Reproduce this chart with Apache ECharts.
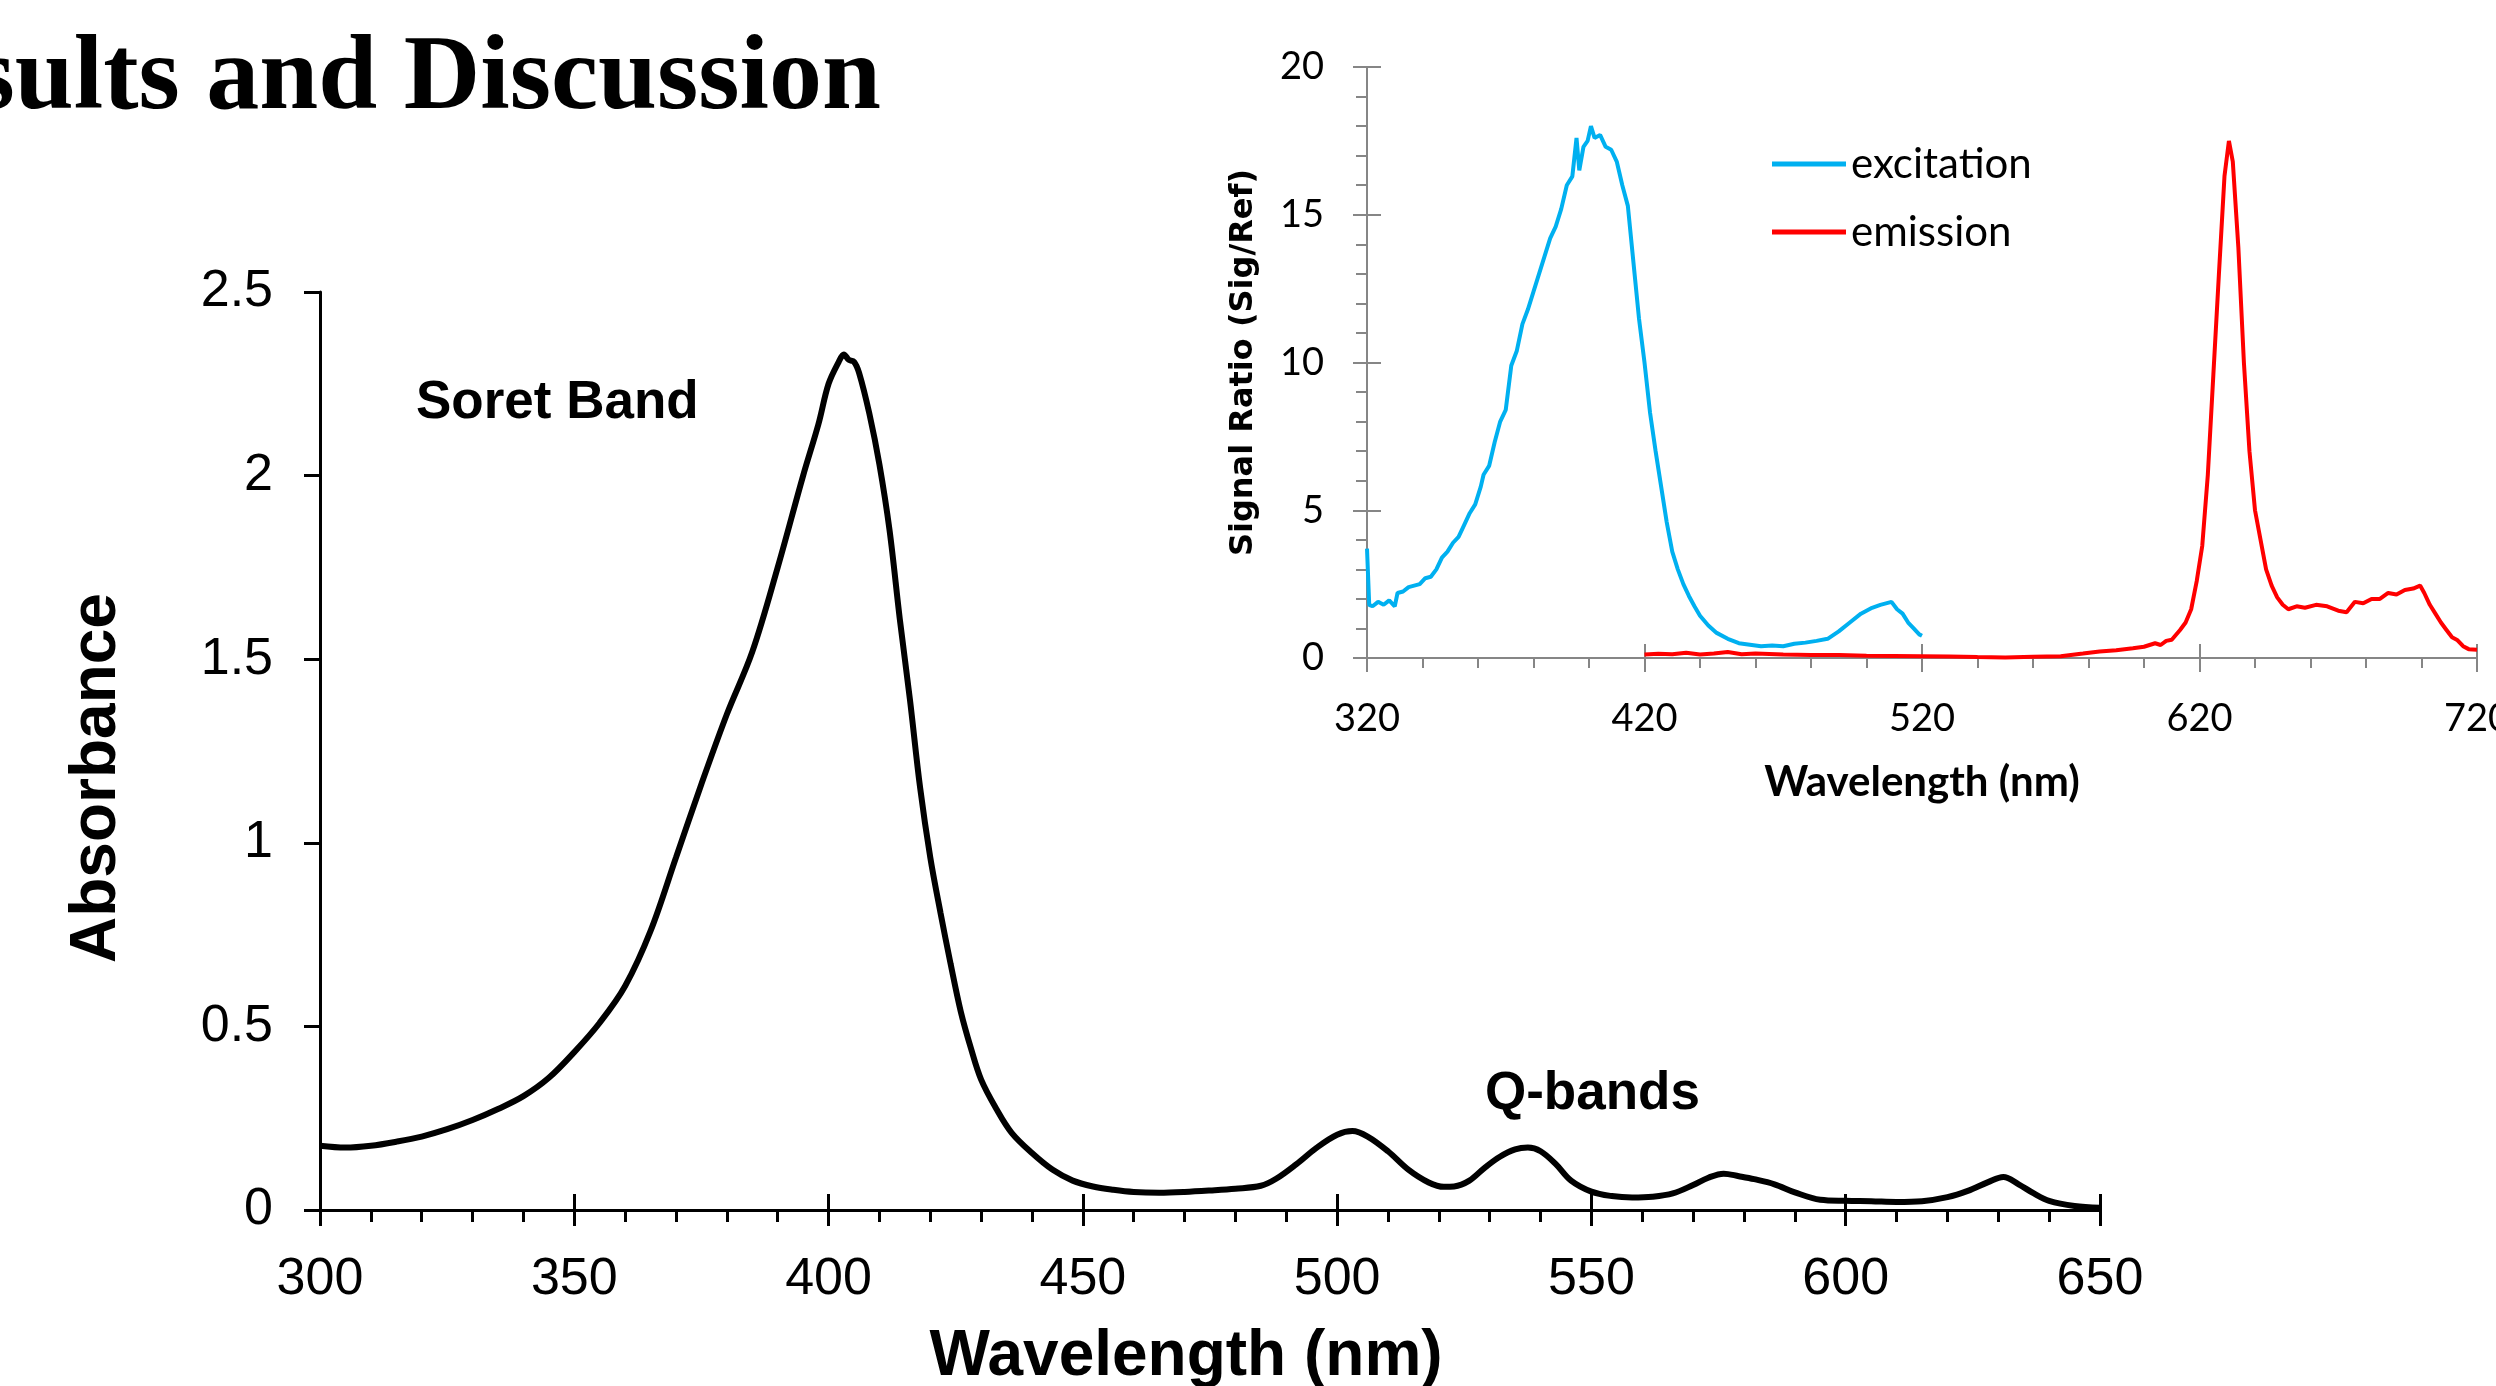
<!DOCTYPE html>
<html>
<head>
<meta charset="UTF-8">
<title>Absorbance, excitation and emission spectra</title>
<script src="https://cdn.jsdelivr.net/npm/echarts@6/dist/echarts.min.js"></script>
<style>
    body, html {
        margin: 0;
        padding: 0;
        background: #fff;
    }

    #chart {
        width: 2496px;
        height: 1386px;
    }
</style>
</head>
<body>
<div id="chart"></div>
<script>
    // main plot: UV-vis absorbance
    var absWavelength = [300, 305, 310, 315, 320, 325, 330, 335, 340, 345, 350, 355, 360, 365, 370, 375, 380, 385, 390, 395,
        398, 400, 402, 403, 404, 405, 406, 408, 410, 412, 414, 416, 418, 420, 422, 424, 426, 428, 430, 433, 436, 440, 444, 448,
        452, 456, 460, 465, 470, 475, 480, 485, 488, 492, 496, 500, 503, 506, 510, 514, 518, 521, 523, 526, 529, 532, 535, 537.5,
        540, 543, 546, 550, 554, 558, 562, 566, 570, 573, 576, 579, 582, 586, 590, 595, 600, 605, 610, 615, 620, 624, 628, 631,
        634, 637, 640, 645, 650];
    var absorbance = [0.175, 0.170, 0.175, 0.186, 0.20, 0.22, 0.245, 0.275, 0.31, 0.36, 0.43, 0.51, 0.61, 0.76, 0.96, 1.16, 1.35, 1.52, 1.75, 2.00,
        2.14, 2.25, 2.31, 2.33, 2.315, 2.31, 2.28, 2.17, 2.03, 1.85, 1.61, 1.39, 1.15, 0.96, 0.81, 0.67, 0.54, 0.44, 0.355, 0.275, 0.21, 0.155, 0.11, 0.08,
        0.064, 0.055, 0.049, 0.047, 0.049, 0.053, 0.058, 0.066, 0.085, 0.125, 0.17, 0.205, 0.215, 0.2, 0.16, 0.11, 0.075, 0.063, 0.064, 0.08, 0.115, 0.145, 0.165, 0.17,
        0.16, 0.125, 0.08, 0.05, 0.038, 0.034, 0.036, 0.045, 0.068, 0.088, 0.099, 0.092, 0.084, 0.07, 0.048, 0.028, 0.025, 0.024, 0.022, 0.024, 0.035, 0.052, 0.076, 0.09,
        0.07, 0.045, 0.025, 0.011, 0.006];

    // inset: excitation / emission signal ratio
    var excWavelength = [320, 320.8, 322, 324, 326, 328, 330, 331, 333, 335, 337, 339, 341, 343, 345, 347, 349, 351, 353, 355,
        357, 359, 361, 362, 364, 366, 368, 370, 372, 374, 376, 378, 380, 382, 384, 386, 388, 390, 392, 394, 395.5, 396.5, 398,
        399.5, 400.7, 402, 404, 406, 408, 410, 412, 414, 416, 418, 420, 422, 424, 426, 428, 430, 432, 434, 436, 438, 440, 443,
        446, 450, 454, 458, 462, 466, 470, 474, 478, 482, 486, 490, 494, 498, 502, 505, 507, 509, 511, 513, 515, 517, 519, 520];
    var excSignal = [3.7, 1.8, 1.75, 1.9, 1.8, 1.95, 1.75, 2.2, 2.25, 2.4, 2.45, 2.5, 2.7, 2.75, 3.0, 3.4, 3.6, 3.9, 4.1, 4.5,
        4.9, 5.2, 5.8, 6.2, 6.5, 7.3, 8.0, 8.4, 9.9, 10.4, 11.3, 11.8, 12.4, 13.0, 13.6, 14.2, 14.6, 15.2, 16.0, 16.3, 17.6, 16.5, 17.3,
        17.5, 18.0, 17.6, 17.7, 17.3, 17.2, 16.8, 16.0, 15.3, 13.4, 11.5, 10.0, 8.3, 7.0, 5.8, 4.6, 3.6, 3.0, 2.5, 2.1, 1.75, 1.43, 1.1,
        0.85, 0.65, 0.5, 0.45, 0.4, 0.42, 0.4, 0.48, 0.52, 0.58, 0.65, 0.9, 1.2, 1.5, 1.7, 1.8, 1.85, 1.9, 1.65, 1.5, 1.2, 1.0, 0.8, 0.75];

    var emWavelength = [420, 425, 430, 435, 440, 445, 450, 455, 460, 470, 480, 490, 500, 510, 520, 530, 540, 550, 560, 570,
        578, 584, 590, 596, 600, 604, 606, 608, 610, 613, 615, 617, 619, 621, 623, 625, 627, 629, 630.6, 632, 634, 636, 638, 640, 642, 644,
        646, 648, 650, 652, 655, 658, 662, 666, 670, 673, 676, 679, 682, 685, 688, 691, 694, 697, 699.5, 701, 703, 705, 707, 709,
        711, 713, 715, 717, 720];
    var emSignal = [0.12, 0.14, 0.13, 0.18, 0.12, 0.15, 0.2, 0.13, 0.15, 0.12, 0.1, 0.1, 0.08, 0.07, 0.06, 0.05, 0.03, 0.02, 0.04, 0.06,
        0.15, 0.22, 0.26, 0.33, 0.38, 0.5, 0.44, 0.58, 0.62, 0.95, 1.2, 1.65, 2.6, 3.8, 6.2, 9.6, 13.0, 16.3, 17.5, 16.8, 13.9, 10.0, 7.0, 5.0, 4.0, 3.0,
        2.45, 2.05, 1.8, 1.65, 1.75, 1.7, 1.8, 1.75, 1.6, 1.55, 1.9, 1.85, 2.0, 2.0, 2.2, 2.15, 2.3, 2.35, 2.45, 2.2, 1.8, 1.5, 1.2, 0.95,
        0.7, 0.6, 0.4, 0.3, 0.28];

    var seriesNames = ['excitation', 'emission'];
    var insetStart = 320; // inset x axis starts here, ticks every 100 nm

    function pairs(xs, ys, shift) {
        return xs.map(function (x, i) {
            return [x - shift, ys[i]];
        });
    }

    var black = '#000';
    var grey = '#868686';
    var mainFont = 'Liberation Sans';
    var insetFont = 'Lato';

    var mainLabel = {color: black, fontFamily: mainFont, fontSize: 52};
    var insetLabel = {color: black, fontFamily: insetFont, fontSize: 38};

    var chart = echarts.init(document.getElementById('chart'), null, {renderer: 'canvas'});

    var option = {
        animation: false,
        backgroundColor: '#fff',
        grid: [
            {left: 320, right: 396, top: 292, bottom: 176, outerBoundsMode: 'none'},
            {left: 1367, right: 19, top: 67, bottom: 728, outerBoundsMode: 'none'}
        ],
        xAxis: [
            {
                type: 'value', gridIndex: 0, position: 'bottom', min: 300, max: 650, interval: 50,
                axisLine: {onZero: false, lineStyle: {color: black, width: 3}},
                axisTick: {length: 16, lineStyle: {color: black, width: 3}},
                minorTick: {show: true, splitNumber: 5, length: 12, lineStyle: {color: black, width: 3}},
                splitLine: {show: false},
                axisLabel: Object.assign({margin: 44}, mainLabel),
                name: 'Wavelength (nm)', nameLocation: 'middle', nameGap: 115,
                nameTextStyle: {color: black, fontFamily: mainFont, fontSize: 64, fontWeight: 'bold', padding: [0, 48, 0, 0]}
            },
            {
                // upper half of the crossing major ticks
                type: 'value', gridIndex: 0, position: 'bottom', min: 300, max: 650, interval: 50,
                axisLine: {show: false, onZero: false},
                axisTick: {inside: true, length: 16, lineStyle: {color: black, width: 3}},
                axisLabel: {show: false},
                splitLine: {show: false}
            },
            {
                type: 'value', gridIndex: 1, position: 'bottom', min: 0, max: 400, interval: 100,
                axisLine: {onZero: false, lineStyle: {color: grey, width: 2}},
                axisTick: {length: 14, lineStyle: {color: grey, width: 2}},
                minorTick: {show: true, splitNumber: 5, length: 10, lineStyle: {color: grey, width: 2}},
                splitLine: {show: false},
                axisLabel: Object.assign({
                    margin: 42, formatter: function (v) {
                        return v + insetStart;
                    }
                }, insetLabel),
                name: 'Wavelength (nm)', nameLocation: 'middle', nameGap: 103,
                nameTextStyle: {color: black, fontFamily: insetFont, fontSize: 42, fontWeight: 'bold'}
            },
            {
                type: 'value', gridIndex: 1, position: 'bottom', min: 0, max: 400, interval: 100,
                axisLine: {show: false, onZero: false},
                axisTick: {inside: true, length: 14, lineStyle: {color: grey, width: 2}},
                axisLabel: {show: false},
                splitLine: {show: false}
            }
        ],
        yAxis: [
            {
                type: 'value', gridIndex: 0, position: 'left', min: 0, max: 2.5, interval: 0.5,
                axisLine: {show: true, onZero: false, lineStyle: {color: black, width: 3}},
                axisTick: {show: true, length: 16, lineStyle: {color: black, width: 3}},
                splitLine: {show: false},
                axisLabel: Object.assign({margin: 47}, mainLabel),
                name: 'Absorbance', nameLocation: 'middle', nameGap: 191,
                nameTextStyle: {color: black, fontFamily: mainFont, fontSize: 64, fontWeight: 'bold', padding: [0, 54, 0, 0]}
            },
            {
                type: 'value', gridIndex: 1, position: 'left', min: 0, max: 20, interval: 5,
                axisLine: {show: true, onZero: false, lineStyle: {color: grey, width: 2}},
                axisTick: {show: true, length: 14, lineStyle: {color: grey, width: 2}},
                minorTick: {show: true, splitNumber: 5, length: 11, lineStyle: {color: grey, width: 2}},
                splitLine: {show: false},
                axisLabel: Object.assign({margin: 43}, insetLabel),
                name: 'Signal Ratio (Sig/Ref)', nameLocation: 'middle', nameGap: 107,
                nameTextStyle: {color: black, fontFamily: 'DejaVu Sans', fontSize: 32, fontWeight: 'bold'}
            },
            {
                type: 'value', gridIndex: 1, position: 'left', min: 0, max: 20, interval: 5,
                axisLine: {show: false, onZero: false},
                axisTick: {show: true, inside: true, length: 14, lineStyle: {color: grey, width: 2}},
                axisLabel: {show: false},
                splitLine: {show: false}
            }
        ],
        legend: {
            data: seriesNames,
            orient: 'vertical',
            left: 1772,
            top: 143,
            padding: 0,
            itemGap: 26,
            itemWidth: 74,
            itemHeight: 5,
            icon: 'rect',
            selectedMode: false,
            textStyle: {color: black, fontFamily: insetFont, fontSize: 42}
        },
        graphic: [
            {
                type: 'text', x: -150, y: 81,
                style: {text: 'Results and Discussion', font: 'bold 106px "Liberation Serif"', fill: black, verticalAlign: 'middle'}
            },
            {
                type: 'text', x: 416, y: 403,
                style: {text: 'Soret Band', font: 'bold 53px "Liberation Sans"', fill: black, verticalAlign: 'middle'}
            },
            {
                type: 'text', x: 1485, y: 1094,
                style: {text: 'Q-bands', font: 'bold 53px "Liberation Sans"', fill: black, verticalAlign: 'middle'}
            }
        ],
        series: [
            {
                name: 'absorbance', type: 'line', xAxisIndex: 0, yAxisIndex: 0,
                data: pairs(absWavelength, absorbance, 0),
                showSymbol: false, smooth: 0.35,
                lineStyle: {color: black, width: 6}
            },
            {
                name: seriesNames[0], type: 'line', xAxisIndex: 2, yAxisIndex: 1,
                data: pairs(excWavelength, excSignal, insetStart),
                showSymbol: false, color: '#00B0F0',
                lineStyle: {color: '#00B0F0', width: 4}
            },
            {
                name: seriesNames[1], type: 'line', xAxisIndex: 2, yAxisIndex: 1,
                data: pairs(emWavelength, emSignal, insetStart),
                showSymbol: false, color: '#FF0000',
                lineStyle: {color: '#FF0000', width: 4}
            }
        ]
    };

    chart.setOption(option);
</script>
</body>
</html>
